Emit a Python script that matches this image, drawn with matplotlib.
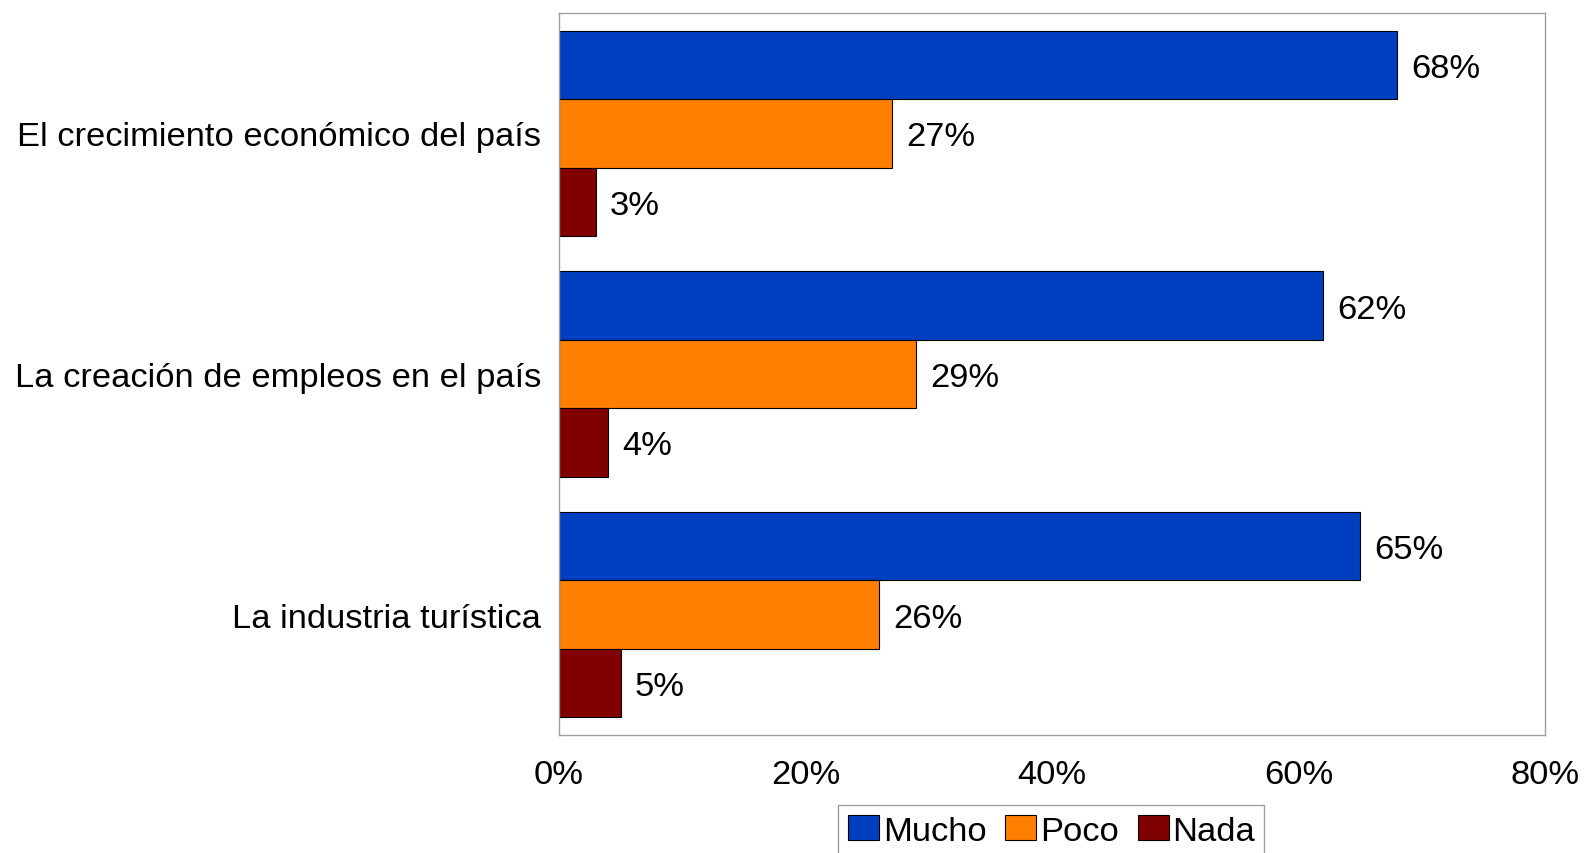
import matplotlib.pyplot as plt
from matplotlib.patches import Rectangle
import numpy as np

categorias = ['El crecimiento económico del país',
              'La creación de empleos en el país',
              'La industria turística']
mucho = [68, 62, 65]
poco = [27, 29, 26]
nada = [3, 4, 5]
series = ['Mucho', 'Poco', 'Nada']
colores = ['#0040C0', '#FF8000', '#800000']
xticks = [0, 20, 40, 60, 80]

plt.rcParams['font.family'] = ['Liberation Sans', 'DejaVu Sans']
fs = 24.8

fig = plt.figure(figsize=(15.85, 8.54), dpi=100)
ax = fig.add_axes([0.3527, 0.1382, 0.6221, 0.8454])

y = np.arange(len(categorias))
h = 0.284
for k, (vals, nombre, col) in enumerate(zip([mucho, poco, nada], series, colores)):
    pos = y + (k - 1) * h
    ax.barh(pos, vals, height=h, color=col, edgecolor='black', linewidth=0.8, label=nombre)
    for p, v in zip(pos, vals):
        ax.text(v + 1.15, p, f'{v}%', va='center_baseline', ha='left', fontsize=fs)

ax.set_xlim(0, 80)
ax.set_ylim(2.5, -0.5)
ax.set_yticks(y)
ax.set_yticklabels(categorias, fontsize=fs)
ax.set_xticks(xticks)
ax.set_xticklabels([f'{t}%' for t in xticks], fontsize=fs)
ax.tick_params(axis='y', length=0, pad=13)
ax.tick_params(axis='x', length=0, pad=17)
for s in ax.spines.values():
    s.set_color('#a0a0a0')
    s.set_linewidth(1)

# legend box runs off the bottom edge like in the original
caja = Rectangle((0.5287, -0.05), 0.2685, 0.1067, transform=fig.transFigure,
                 facecolor='white', edgecolor='#a0a0a0', linewidth=1)
fig.patches.append(caja)
leg = fig.legend(loc='center', bbox_to_anchor=(0.6635, 0.0258), ncol=3,
                 fontsize=fs, frameon=False, handlelength=0.9,
                 handleheight=0.7, handletextpad=0.1, columnspacing=0.55,
                 borderpad=0, borderaxespad=0)

fig.savefig('out.png', dpi=100)
